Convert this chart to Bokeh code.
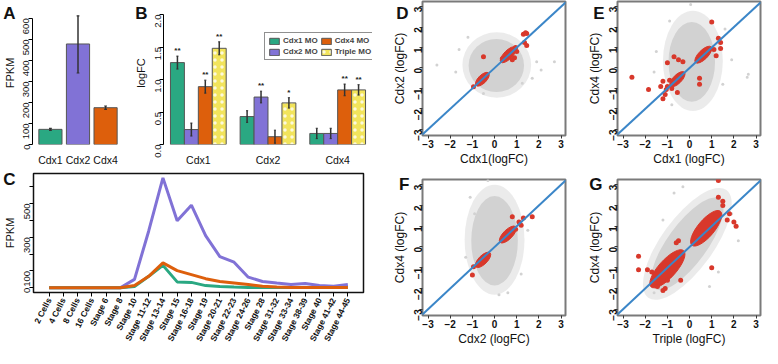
import math
from bokeh.plotting import figure
from bokeh.layouts import row, column
from bokeh.models import (ColumnDataSource, FactorRange, Range1d, Legend,
                          LegendItem, Slope, FixedTicker, LinearAxis)
from bokeh.transform import dodge
from bokeh.embed import file_html
from bokeh.resources import INLINE

FONT = "Liberation Sans"
GREEN = "#2aa882"
PURPLE = "#8172d6"
ORANGE = "#dd5f0c"
YELLOW = "#f2e45c"
RED = "#d8382b"
GRAY = "#d2d2d2"
BLUE = "#3b86c8"

# ---------------- data ----------------
# Panel A
a_genes = ["Cdx1", "Cdx2", "Cdx4"]
a_fpkm = [72, 478, 175]
a_lo = [67, 340, 167]
a_hi = [77, 612, 183]

# Panel B
b_genes = ["Cdx1", "Cdx2", "Cdx4"]
b_mo = ["Cdx1 MO", "Cdx2 MO", "Cdx4 MO", "Triple MO"]
b_cdx1mo = [1.26, 0.43, 0.17]
b_cdx2mo = [0.23, 0.73, 0.17]
b_cdx4mo = [0.89, 0.12, 0.84]
b_triplemo = [1.48, 0.64, 0.84]
b_err_cdx1mo = [0.10, 0.09, 0.08]
b_err_cdx2mo = [0.10, 0.09, 0.08]
b_err_cdx4mo = [0.10, 0.10, 0.09]
b_err_triplemo = [0.10, 0.08, 0.08]
b_sig_cdx1mo = ["**", "", ""]
b_sig_cdx2mo = ["", "**", ""]
b_sig_cdx4mo = ["**", "", "**"]
b_sig_triplemo = ["**", "*", "**"]

# Panel C
stages = ["2 Cells", "4 Cells", "8 Cells", "16 Cells", "Stage 6", "Stage 8",
          "Stage 10", "Stage 11-12", "Stage 13-14", "Stage 15", "Stage 16-18",
          "Stage 19", "Stage 20-21", "Stage 22-23", "Stage 24-26", "Stage 28",
          "Stage 31-32", "Stage 33-34", "Stage 38-39", "Stage 40", "Stage 41-42",
          "Stage 44-45"]
c_cdx2 = [0, 0, 0, 0, 0, 0, 50, 337, 652, 398, 490, 309, 185, 152, 63, 37, 28, 20, 26, 13, 9, 20]
c_cdx4 = [0, 0, 0, 0, 0, 0, 13, 68, 148, 102, 78, 54, 37, 28, 19, 9, 4, 2, 2, 2, 2, 2]
c_cdx1 = [0, 0, 0, 0, 0, 0, 7, 68, 133, 35, 32, 13, 7, 4, 2, 1, 1, 1, 1, 1, 1, 1]

# Panels D-G: gray cloud (halo, core) and red cluster outlines + single points
d_cloud_cx = [0.10, 0.08]; d_cloud_cy = [0.15, 0.12]
d_cloud_w = [3.1, 2.5]; d_cloud_h = [3.2, 2.6]; d_cloud_ang = [0, 0]
d_red_cx = [0.62, -0.55]; d_red_cy = [0.65, -0.55]
d_red_w = [0.95, 0.8]; d_red_h = [0.42, 0.4]; d_red_ang = [45, 45]
d_red_x = [1.3, 1.4, 1.45, 1.35, 1.45, -0.5, -0.95, 0.95, 1.0, 0.9, 0.35, 0.8]
d_red_y = [1.65, 1.72, 1.68, 1.25, 1.1, 0.55, -0.92, 1.0, 0.8, 0.5, 0.45, 0.4]
d_gray_x = [-2.6, -1.75, 2.7, 1.9, -1.2, -0.5, 1.25, 2.1, -1.6, 1.7]
d_gray_y = [0.15, -0.2, 0.3, 0.3, 1.5, -1.25, -0.75, -0.1, 0.9, -0.5]

e_cloud_cx = [0.15, 0.1]; e_cloud_cy = [0.35, 0.3]
e_cloud_w = [2.7, 2.1]; e_cloud_h = [4.9, 3.9]; e_cloud_ang = [0, 0]
e_red_cx = [0.62, -0.55]; e_red_cy = [0.65, -0.55]
e_red_w = [1.0, 0.9]; e_red_h = [0.45, 0.42]; e_red_ang = [45, 45]
e_red_x = [1.0, 1.3, 1.4, 1.4, 1.1, 1.2, -0.7, -0.5, -0.3, -1.0, -2.6, -1.85, -1.2, -1.1,
           -1.3, -1.2, -1.0, -0.8, -0.9, 0.45, 0.45, -0.55, -1.05]
e_red_y = [2.25, 1.45, 1.25, 0.95, 0.9, 0.6, 0.55, 0.4, 0.3, 0.25, -0.45, -1.05, -1.5, -1.3,
           -0.9, -0.65, -0.9, -1.0, -0.6, -0.5, -0.8, -1.2, -1.05]
e_gray_x = [2.6, 2.65, -1.5, 1.6, -0.9, 0.05, 1.5, -0.8, 1.9, -1.6]
e_gray_y = [-0.45, -0.3, 0.8, 1.9, 2.3, 3.1, -0.8, -1.8, 0.4, -0.2]

f_cloud_cx = [0.0, 0.0]; f_cloud_cy = [0.35, 0.3]
f_cloud_w = [2.7, 2.1]; f_cloud_h = [5.3, 4.3]; f_cloud_ang = [0, 0]
f_red_cx = [0.6, -0.52]; f_red_cy = [0.6, -0.62]
f_red_w = [1.0, 0.9]; f_red_h = [0.45, 0.42]; f_red_ang = [45, 45]
f_red_x = [0.8, 1.3, 1.7, 1.2, 1.1, -1.0, -0.95, 0.95]
f_red_y = [1.45, 1.4, 1.45, 1.05, 1.2, -1.35, -0.95, 0.85]
f_gray_x = [-0.3, -1.1, -1.3, 1.2, 0.6, 1.5, -0.9, 0.2]
f_gray_y = [3.2, 2.4, -0.5, -1.3, -2.2, 0.8, 1.6, -2.3]

g_cloud_cx = [-0.1, -0.1]; g_cloud_cy = [0.15, 0.15]
g_cloud_w = [6.0, 5.0]; g_cloud_h = [2.5, 1.9]; g_cloud_ang = [54, 54]
g_red_cx = [0.75, -1.0]; g_red_cy = [0.9, -1.05]
g_red_w = [2.0, 2.2]; g_red_h = [0.8, 0.85]; g_red_ang = [50, 48]
g_red_x = [1.3, 1.3, 1.5, 1.5, 2.0, 2.1, -0.5, -0.6, -2.3, -2.3, -1.9, -1.7, -1.2, -1.1,
           -1.45, -1.0, 1.0, -0.4, 1.7, 1.8]
g_red_y = [3.2, 2.4, 2.2, 2.0, 1.2, 1.0, 0.3, 0.2, -0.45, -1.1, -1.1, -1.2, -2.1, -2.0,
           -1.9, -1.6, -1.0, -1.6, 1.3, 1.6]
g_gray_x = [-0.7, -1.6, 1.9, 1.3, -1.2, 2.2, -0.3, 0.9]
g_gray_y = [2.6, -2.2, 1.6, -1.2, 1.3, 0.3, 2.9, -1.9]


def base_style(p):
    p.grid.visible = False
    p.background_fill_color = "white"
    p.border_fill_color = "white"
    for ax in p.axis:
        ax.major_label_text_font = FONT
        ax.axis_label_text_font = FONT
        ax.axis_label_text_font_style = "normal"
        ax.major_label_text_color = "#111111"
        ax.axis_label_text_color = "#111111"
        ax.minor_tick_line_color = None


def letter(p, txt, yval, standoff):
    """Panel letter drawn as the only tick label of an extra left axis."""
    ax = LinearAxis(ticker=FixedTicker(ticks=[yval]), major_label_overrides={yval: txt})
    ax.axis_line_color = None
    ax.major_tick_line_color = None
    ax.minor_tick_line_color = None
    ax.major_tick_out = 0
    ax.major_tick_in = 0
    ax.major_label_standoff = standoff
    ax.major_label_text_font = FONT
    ax.major_label_text_font_style = "bold"
    ax.major_label_text_font_size = "17px"
    ax.major_label_text_color = "#111111"
    p.add_layout(ax, "left")


# ---------------- Panel A ----------------
pa = figure(width=127, height=168, x_range=FactorRange(*a_genes, range_padding=0.1),
            y_range=Range1d(0, 680), output_backend="svg", toolbar_location=None,
            min_border_left=32, min_border_right=4, min_border_top=1, min_border_bottom=23)
srcA = ColumnDataSource(dict(gene=a_genes, v=a_fpkm, lo=a_lo, hi=a_hi,
                             col=[GREEN, PURPLE, ORANGE]))
pa.vbar(x="gene", top="v", width=0.84, source=srcA, fill_color="col",
        line_color="#555555", line_width=1)
pa.segment(x0="gene", y0="lo", x1="gene", y1="hi", source=srcA, line_color="#333333", line_width=1.5)
for f in ("lo", "hi"):
    pa.segment(x0=dodge("gene", -0.05, range=pa.x_range), y0=f,
               x1=dodge("gene", 0.05, range=pa.x_range), y1=f, source=srcA,
               line_color="#333333", line_width=1.2)
pa.outline_line_color = None
base_style(pa)
pa.yaxis.ticker = FixedTicker(ticks=[0, 100, 200, 300, 400, 500, 600])
pa.yaxis.bounds = (0, 600)
pa.yaxis.major_label_orientation = math.pi / 2
pa.yaxis.major_label_text_font_size = "9.5px"
pa.yaxis.axis_label = "FPKM"
pa.yaxis.axis_label_text_font_size = "11px"
pa.yaxis.axis_label_standoff = 2
pa.yaxis.major_label_standoff = 2
pa.yaxis.major_tick_out = 4
pa.yaxis.major_tick_in = 0
pa.xaxis.axis_line_color = None
pa.xaxis.major_tick_line_color = None
pa.xaxis.major_label_text_font_size = "10.5px"
pa.xaxis.major_label_standoff = 3
letter(pa, "A", 655, -15)

# ---------------- Panel B ----------------
pb = figure(width=245, height=168, x_range=FactorRange(*b_genes, range_padding=0),
            y_range=Range1d(0, 2.2), output_backend="svg", toolbar_location=None,
            min_border_left=36, min_border_right=0, min_border_top=1, min_border_bottom=22)
series = [(b_cdx1mo, b_err_cdx1mo, b_sig_cdx1mo, GREEN, -0.3),
          (b_cdx2mo, b_err_cdx2mo, b_sig_cdx2mo, PURPLE, -0.1),
          (b_cdx4mo, b_err_cdx4mo, b_sig_cdx4mo, ORANGE, 0.1),
          (b_triplemo, b_err_triplemo, b_sig_triplemo, YELLOW, 0.3)]
b_renderers = []
for vals, errs, sigs, colr, off in series:
    src = ColumnDataSource(dict(gene=b_genes, v=vals,
                                lo=[v - e for v, e in zip(vals, errs)],
                                hi=[v + e for v, e in zip(vals, errs)],
                                sig=sigs))
    kw = {}
    if colr == YELLOW:
        kw = dict(hatch_pattern="dot", hatch_color="white", hatch_alpha=0.8,
                  hatch_scale=7, hatch_weight=1)
    r = pb.vbar(x=dodge("gene", off, range=pb.x_range), top="v", width=0.2, source=src,
                fill_color=colr, line_color="#555555", line_width=1, **kw)
    b_renderers.append(r)
    pb.segment(x0=dodge("gene", off, range=pb.x_range), y0="lo",
               x1=dodge("gene", off, range=pb.x_range), y1="hi", source=src,
               line_color="#333333", line_width=1.5)
    for f in ("lo", "hi"):
        pb.segment(x0=dodge("gene", off - 0.015, range=pb.x_range), y0=f,
                   x1=dodge("gene", off + 0.015, range=pb.x_range), y1=f, source=src,
                   line_color="#333333", line_width=1)
    pb.text(x=dodge("gene", off, range=pb.x_range), y="hi", text="sig", source=src,
            text_font_size="8px", text_font_style="bold", text_align="center",
            text_baseline="bottom", y_offset=-1, text_color="#222222")
pb.outline_line_color = None
base_style(pb)
pb.yaxis.ticker = FixedTicker(ticks=[0, 0.5, 1.0, 1.5, 2.0])
pb.yaxis.bounds = (0, 2)
pb.yaxis.major_label_overrides = {0: "0.0", 0.5: "0.5", 1.0: "1.0", 1.5: "1.5", 2.0: "2.0"}
pb.yaxis.major_label_orientation = math.pi / 2
pb.yaxis.major_label_text_font_size = "9.5px"
pb.yaxis.axis_label = "logFC"
pb.yaxis.axis_label_text_font_size = "11px"
pb.yaxis.axis_label_standoff = 2
pb.yaxis.major_label_standoff = 2
pb.yaxis.major_tick_out = 4
pb.yaxis.major_tick_in = 0
pb.xaxis.axis_line_color = None
pb.xaxis.major_tick_line_color = None
pb.xaxis.major_label_text_font_size = "10.5px"
pb.xaxis.major_label_standoff = 3
legend = Legend(items=[LegendItem(label=b_mo[i], renderers=[b_renderers[i]]) for i in range(4)],
                location=(101, 84), ncols=2, border_line_color="#222222", border_line_width=1,
                label_text_font=FONT, label_text_font_style="bold", label_text_font_size="8px",
                glyph_width=12, glyph_height=8, label_height=9, label_standoff=3,
                spacing=2, padding=3, margin=0, background_fill_alpha=1)
pb.add_layout(legend)
letter(pb, "B", 2.12, -16)

# ---------------- Panel C ----------------
pc = figure(width=372, height=180,
            x_range=FactorRange(*stages, range_padding=0.6, range_padding_units="absolute"),
            y_range=Range1d(-28, 678), output_backend="svg", toolbar_location=None,
            min_border_left=33, min_border_right=9, min_border_top=5, min_border_bottom=54)
pc.line(x=stages, y=c_cdx2, line_color=PURPLE, line_width=3)
pc.line(x=stages, y=c_cdx1, line_color=GREEN, line_width=3)
pc.line(x=stages, y=c_cdx4, line_color=ORANGE, line_width=3)
pc.outline_line_color = "#111111"
pc.outline_line_width = 1.5
base_style(pc)
pc.yaxis.ticker = FixedTicker(ticks=[0, 100, 200, 300, 400, 500, 600])
pc.yaxis.major_label_overrides = {200: "", 400: "", 600: ""}
pc.yaxis.major_label_orientation = math.pi / 2
pc.yaxis.major_label_text_font_size = "9.5px"
pc.yaxis.axis_label = "FPKM"
pc.yaxis.axis_label_text_font_size = "11px"
pc.yaxis.axis_label_standoff = 3
pc.yaxis.major_label_standoff = 2
pc.yaxis.major_tick_out = 4
pc.yaxis.major_tick_in = 0
pc.yaxis.axis_line_color = None
pc.xaxis.axis_line_color = None
pc.xaxis.major_tick_out = 4
pc.xaxis.major_tick_in = 0
pc.xaxis.major_label_orientation = 1.1
pc.xaxis.major_label_text_font_size = "8.5px"
pc.xaxis.major_label_text_font_style = "bold"
pc.xaxis.major_label_standoff = 2
letter(pc, "C", 660, -15)


# ---------------- Panels D-G ----------------
def scatter_panel(txt, xlab, ylab, cloud, redcl, redpts, graypts, H, T, FH, lstand):
    p = figure(width=195, height=H, x_range=Range1d(-3.25, 3.2), y_range=Range1d(-3.3, 3.25),
               output_backend="svg", toolbar_location=None,
               min_border_left=50, min_border_right=2, min_border_top=T,
               min_border_bottom=H - T - FH)
    cx, cy, cw, ch, ca = cloud
    p.ellipse(x=cx[:1], y=cy[:1], width=cw[:1], height=ch[:1], angle=ca[:1], angle_units="deg",
              fill_color=GRAY, fill_alpha=0.45, line_color=None)
    p.ellipse(x=cx[1:], y=cy[1:], width=cw[1:], height=ch[1:], angle=ca[1:], angle_units="deg",
              fill_color=GRAY, fill_alpha=1.0, line_color=None)
    p.scatter(x=graypts[0], y=graypts[1], size=3, fill_color=GRAY, line_color=None)
    rx, ry, rw, rh, ra = redcl
    p.ellipse(x=rx, y=ry, width=rw, height=rh, angle=ra, angle_units="deg",
              fill_color=RED, line_color=RED, line_width=1)
    p.scatter(x=redpts[0], y=redpts[1], size=5, fill_color=RED, line_color=None)
    p.add_layout(Slope(gradient=1, y_intercept=0, line_color=BLUE, line_width=2))
    p.outline_line_color = "#7a7a7a"
    p.outline_line_width = 2
    base_style(p)
    for ax in (p.xaxis, p.yaxis):
        ax.ticker = FixedTicker(ticks=[-3, -2, -1, 0, 1, 2, 3])
        ax.axis_line_color = None
        ax.major_tick_out = 3
        ax.major_tick_in = 0
        ax.major_tick_line_color = "#333333"
        ax.major_label_text_font_size = "10px"
        ax.major_label_text_font_style = "bold"
        ax.major_label_standoff = 1
        ax.axis_label_text_font_size = "12px"
        ax.axis_label_standoff = 1
    p.yaxis.major_label_orientation = math.pi / 2
    p.xaxis.axis_label = xlab
    p.yaxis.axis_label = ylab
    letter(p, txt, 3, lstand)
    return p


pd_ = scatter_panel("D", "Cdx1(logFC)", "Cdx2 (logFC)",
                    (d_cloud_cx, d_cloud_cy, d_cloud_w, d_cloud_h, d_cloud_ang),
                    (d_red_cx, d_red_cy, d_red_w, d_red_h, d_red_ang),
                    (d_red_x, d_red_y), (d_gray_x, d_gray_y), 168, 1, 138, -19)
pe = scatter_panel("E", "Cdx1 (logFC)", "Cdx4 (logFC)",
                   (e_cloud_cx, e_cloud_cy, e_cloud_w, e_cloud_h, e_cloud_ang),
                   (e_red_cx, e_red_cy, e_red_w, e_red_h, e_red_ang),
                   (e_red_x, e_red_y), (e_gray_x, e_gray_y), 168, 1, 138, -20)
pf = scatter_panel("F", "Cdx2 (logFC)", "Cdx4 (logFC)",
                   (f_cloud_cx, f_cloud_cy, f_cloud_w, f_cloud_h, f_cloud_ang),
                   (f_red_cx, f_red_cy, f_red_w, f_red_h, f_red_ang),
                   (f_red_x, f_red_y), (f_gray_x, f_gray_y), 180, 11, 140, -20)
pg = scatter_panel("G", "Triple (logFC)", "Cdx4 (logFC)",
                   (g_cloud_cx, g_cloud_cy, g_cloud_w, g_cloud_h, g_cloud_ang),
                   (g_red_cx, g_red_cy, g_red_w, g_red_h, g_red_ang),
                   (g_red_x, g_red_y), (g_gray_x, g_gray_y), 180, 11, 140, -18)

layout = row(column(row(pa, pb), pc), column(row(pd_, pe), row(pf, pg)))

open("out.html", "w").write(file_html(layout, INLINE))
